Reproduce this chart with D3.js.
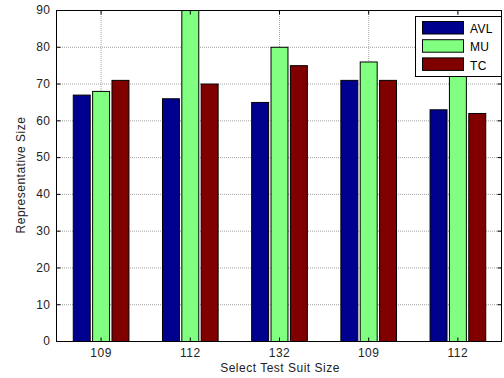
<!DOCTYPE html>
<html>
<head>
<meta charset="utf-8">
<script src="https://cdn.jsdelivr.net/npm/d3@7"></script>
<style>
  html, body { margin: 0; padding: 0; background: #fff; }
  svg { display: block; font-family: "Liberation Sans", Arial, sans-serif; }
</style>
</head>
<body>
<div id="chart"></div>
<script>
// Grouped bars: representative size per test suite, three methods.

const categories = ["109", "112", "132", "109", "112"];
const seriesNames = ["AVL", "MU", "TC"];
const avl = [67, 66, 65, 71, 63];
const mu  = [68, 90, 80, 76, 75];
const tc  = [71, 70, 75, 71, 62];
const yTicks = [0, 10, 20, 30, 40, 50, 60, 70, 80, 90];
const colors = ["#00008f", "#80ff80", "#800000"];

const W = 504, H = 378;
const margin = { top: 10, right: 2, bottom: 37, left: 56 };
const series = [avl, mu, tc];
const FS = 12, LS = "0.5px";

const svg = d3.select("#chart").append("svg")
  .attr("width", W).attr("height", H);

const x = d3.scaleLinear().domain([0.5, 5.5]).range([margin.left, W - margin.right]);
const y = d3.scaleLinear().domain([0, 90]).range([H - margin.bottom, margin.top]);

const barW = 0.19, step = 0.217;

svg.append("clipPath").attr("id", "plot")
  .append("rect").attr("x", x(0.5)).attr("y", y(90))
  .attr("width", x(5.5) - x(0.5)).attr("height", y(0) - y(90));

// grid
const grid = svg.append("g").attr("stroke", "#8c8c8c").attr("stroke-width", 0.8)
  .attr("stroke-dasharray", "1 1");
grid.selectAll("line.h").data(yTicks.slice(1, -1)).join("line").attr("class", "h")
  .attr("x1", x(0.5)).attr("x2", x(5.5)).attr("y1", d => y(d) + 0.5).attr("y2", d => y(d) + 0.5);
grid.selectAll("line.v").data(categories).join("line").attr("class", "v")
  .attr("x1", (d, i) => x(i + 1) + 0.5).attr("x2", (d, i) => x(i + 1) + 0.5)
  .attr("y1", y(90)).attr("y2", y(0));

// bars
const gBars = svg.append("g").attr("clip-path", "url(#plot)");
series.forEach((vals, s) => {
  gBars.selectAll(null).data(vals).join("rect")
    .attr("x", (d, i) => x(i + 1 + (s - 1) * step - barW / 2) + 0.5)
    .attr("width", x(barW) - x(0))
    .attr("y", d => y(d) + 0.5)
    .attr("height", d => y(0) - y(d))
    .attr("fill", colors[s])
    .attr("stroke", "#000").attr("stroke-width", 1);
});

// axes box
const box = svg.append("g").attr("stroke", "#000").attr("fill", "none");
box.append("rect").attr("x", x(0.5) + 0.5).attr("y", y(90) + 0.5)
  .attr("width", x(5.5) - x(0.5) - 1).attr("height", y(0) - y(90)).attr("stroke-width", 1);

const gY = svg.append("g").attr("transform", `translate(${x(0.5) + 0.5},0)`)
  .call(d3.axisLeft(y).tickValues(yTicks).tickSize(-4).tickPadding(6));
const gY2 = svg.append("g").attr("transform", `translate(${x(5.5) - 0.5},0)`)
  .call(d3.axisRight(y).tickValues(yTicks).tickSize(-4).tickFormat(""));
const gX = svg.append("g").attr("transform", `translate(0,${y(0) + 0.5})`)
  .call(d3.axisBottom(x).tickValues([1, 2, 3, 4, 5]).tickSize(-4).tickPadding(7)
    .tickFormat(d => categories[d - 1]));
const gX2 = svg.append("g").attr("transform", `translate(0,${y(90) + 0.5})`)
  .call(d3.axisTop(x).tickValues([1, 2, 3, 4, 5]).tickSize(-4).tickFormat(""));
[gY, gY2, gX, gX2].forEach(g => {
  g.select(".domain").remove();
  g.selectAll("text").attr("font-size", FS).attr("fill", "#222").attr("letter-spacing", LS)
    .attr("font-family", "Liberation Sans, Arial, sans-serif");
});

// axis titles
svg.append("text").attr("x", 280).attr("y", 372).attr("text-anchor", "middle")
  .attr("font-size", FS).attr("letter-spacing", LS).attr("fill", "#222")
  .text("Select Test Suit Size");
svg.append("text").attr("transform", `translate(25,175) rotate(-90)`)
  .attr("text-anchor", "middle").attr("font-size", FS).attr("letter-spacing", LS)
  .attr("fill", "#222").text("Representative Size");

// legend
const lg = svg.append("g").attr("transform", "translate(415,16)");
lg.append("rect").attr("x", 0.5).attr("y", 0.5).attr("width", 86).attr("height", 60)
  .attr("fill", "#fff").attr("stroke", "#000");
seriesNames.forEach((name, i) => {
  lg.append("rect").attr("x", 7.5).attr("y", 5.5 + i * 18.2).attr("width", 41).attr("height", 12.5)
    .attr("fill", colors[i]).attr("stroke", "#000");
  lg.append("text").attr("x", 55).attr("y", 16.8 + i * 18.4).attr("font-size", FS)
    .attr("letter-spacing", "0.3px").attr("fill", "#000").text(name);
});
</script>
</body>
</html>
